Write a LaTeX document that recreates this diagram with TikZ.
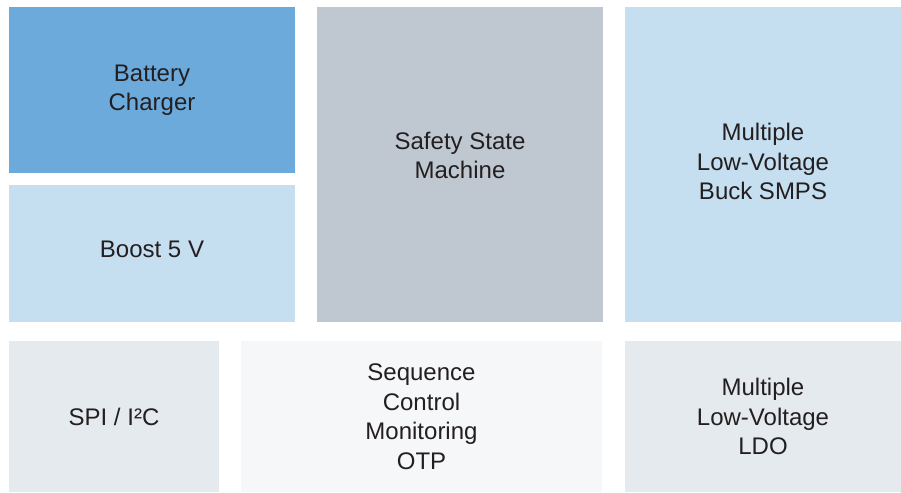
\documentclass[tikz,border=0pt]{standalone}
\usepackage{fontspec}
\setmainfont{Liberation Sans}
\definecolor{cdark}{HTML}{6CAADC}
\definecolor{clight}{HTML}{C5DEF0}
\definecolor{cgray}{HTML}{BFC7D1}
\definecolor{cpale}{HTML}{E5EAEE}
\definecolor{cwhite}{HTML}{F6F7F9}
\definecolor{ctext}{HTML}{231F20}
\begin{document}
\begin{tikzpicture}[x=1pt,y=-1pt,
  blk/.style={rectangle, draw=none, inner sep=0pt},
  txt/.style={inner sep=0pt, align=center, text=ctext,
    font=\fontsize{24}{29.5}\selectfont}]
\useasboundingbox (0,0) rectangle (901,492);
\node[blk, fill=cdark, minimum width=286pt, minimum height=166pt,
  label={[txt]center:Battery\\Charger}] (bc) at (152,90) {};
\node[blk, fill=clight, minimum width=286pt, minimum height=137pt,
  label={[txt, yshift=4pt]center:Boost 5 V}] (bo) at (152,253.5) {};
\node[blk, fill=cgray, minimum width=286pt, minimum height=315pt,
  label={[txt, yshift=9pt]center:Safety State\\Machine}] (ss) at (460,164.5) {};
\node[blk, fill=clight, minimum width=276pt, minimum height=315pt,
  label={[txt, yshift=3pt]center:Multiple\\Low-Voltage\\Buck SMPS}] (bk) at (763,164.5) {};
\node[blk, fill=cpale, minimum width=210pt, minimum height=151pt,
  label={[txt]center:SPI / I²C}] (sp) at (114,416.5) {};
\node[blk, fill=cwhite, minimum width=361pt, minimum height=151pt,
  label={[txt]center:Sequence\\Control\\Monitoring\\OTP}] (sq) at (421.5,416.5) {};
\node[blk, fill=cpale, minimum width=276pt, minimum height=151pt,
  label={[txt]center:Multiple\\Low-Voltage\\LDO}] (ld) at (763,416.5) {};
\end{tikzpicture}
\end{document}
